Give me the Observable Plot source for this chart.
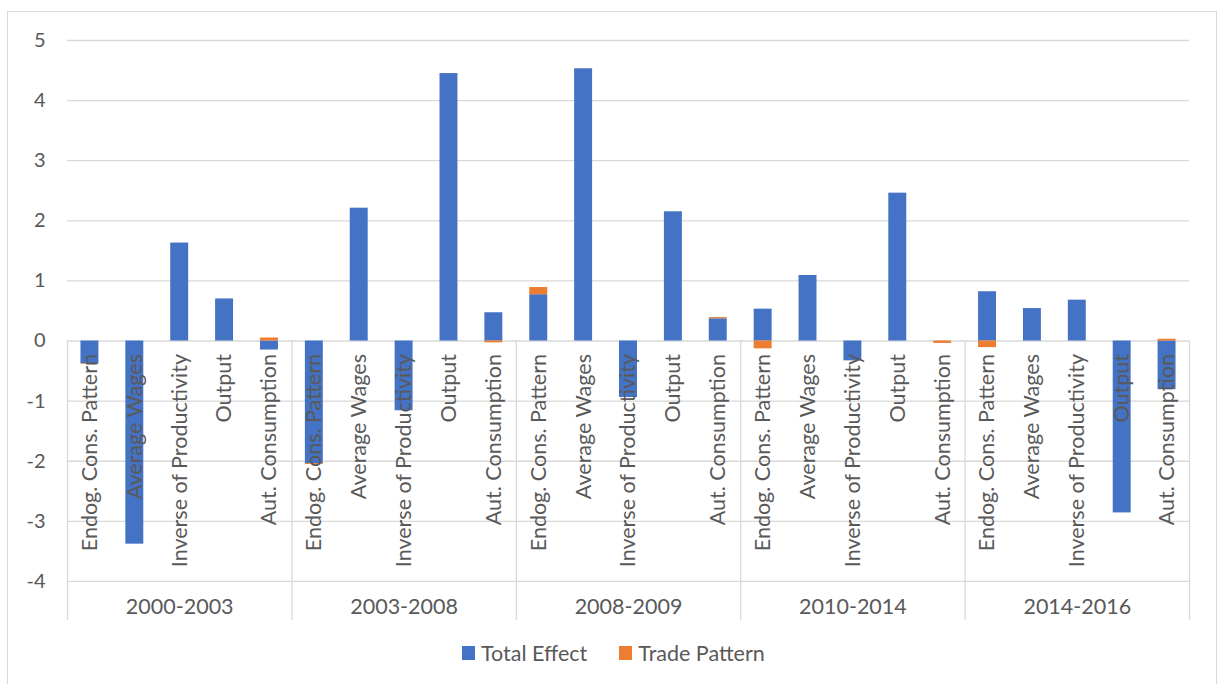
<!DOCTYPE html>
<html><head><meta charset="utf-8">
<script src="https://cdn.jsdelivr.net/npm/d3@7"></script>
<script src="https://cdn.jsdelivr.net/npm/@observablehq/plot@0.6"></script>
<style>
body{margin:0;background:#fff;font-family:Lato,"Open Sans",sans-serif;}
#frame{position:absolute;left:7px;top:11px;width:1210px;height:700px;border:1px solid #d9d9d9;box-sizing:border-box;}
#chart{position:absolute;left:0;top:0;}
#chart svg g[aria-label*="y-axis"] text{font-size:20px !important;}
#legend{position:absolute;top:640px;left:462px;display:flex;align-items:center;font-size:21.5px;color:#595959;white-space:nowrap;}
#legend .sw{display:inline-block;width:13px;height:14px;margin-right:6px;}
#legend .item{display:flex;align-items:center;margin-right:32px;}
</style>
</head><body>
<div id="frame"></div>
<div id="chart"></div>
<div id="legend"></div>
<script>
const periods = ["2000-2003", "2003-2008", "2008-2009", "2010-2014", "2014-2016"];
const factors = ["Endog. Cons. Pattern", "Average Wages", "Inverse of Productivity", "Output", "Aut. Consumption"];
const seriesNames = ["Total Effect", "Trade Pattern"];
const seriesColors = ["#4472C4", "#ED7D31"];
// values in order period by period, factor by factor
const totalEffect = [
  -0.38, -3.38, 1.63, 0.70, -0.15,
  -2.04, 2.21, -1.16, 4.45, 0.47,
  0.77, 4.53, -0.94, 2.15, 0.37,
  0.53, 1.09, -0.33, 2.46, 0.00,
  0.82, 0.54, 0.68, -2.86, -0.81
];
const tradePattern = [
  -0.01, 0, 0, 0, 0.05,
  -0.015, 0, 0, 0, -0.03,
  0.12, 0, 0, 0, 0.02,
  -0.13, 0, 0, 0, -0.04,
  -0.11, 0, 0, 0, 0.03
];
const yTicks = [-4, -3, -2, -1, 0, 1, 2, 3, 4, 5];

const W = 1218, H = 630, ML = 67, MR = 29, MT = 40, MB = 10;
const FS = 21.5;
const keys = periods.flatMap(p => factors.map(f => p + "|" + f));
const step = (W - ML - MR) / keys.length;

const rows = [];
keys.forEach((k, i) => {
  rows.push({key: k, series: seriesNames[0], value: totalEffect[i]});
  rows.push({key: k, series: seriesNames[1], value: tradePattern[i]});
});
const labels = keys.map(k => ({key: k, label: k.split("|")[1]}));
const grey = "#595959", line = "#d9d9d9";

const chart = Plot.plot({
  width: W, height: H,
  marginLeft: ML, marginRight: MR, marginTop: MT, marginBottom: MB,
  style: {fontFamily: "Lato, 'Open Sans', sans-serif", fontSize: "20px", color: grey, background: "transparent"},
  x: {type: "band", domain: keys, paddingInner: 0.6, paddingOuter: 0.3, round: false, axis: null},
  y: {domain: [-4.65, 5], ticks: yTicks, tickSize: 0, tickPadding: 22, label: null, tickFormat: d => String(d)},
  color: {domain: seriesNames, range: seriesColors},
  marks: [
    Plot.ruleY(yTicks, {stroke: line, strokeWidth: 1.3}),
    Plot.ruleX(periods, {x: p => p + "|" + factors[0], y1: 0, y2: -4.65, dx: -step / 2, stroke: line, strokeWidth: 1.3}),
    Plot.ruleX(periods.slice(-1), {x: p => p + "|" + factors[factors.length - 1], y1: 0, y2: -4.65, dx: step / 2, stroke: line, strokeWidth: 1.3}),
    Plot.barY(rows, {x: "key", y: "value", fill: "series"}),
    Plot.text(labels, {x: "key", y: 0, text: "label", rotate: -90, textAnchor: "end", dy: 13, fontSize: FS, fill: grey}),
    Plot.text(periods, {x: p => p + "|" + factors[2], y: -4.43, text: d => d, fontSize: FS, fill: grey})
  ]
});
document.getElementById("chart").appendChild(chart);

const legend = document.getElementById("legend");
seriesNames.forEach((s, i) => {
  const item = document.createElement("span");
  item.className = "item";
  item.innerHTML = `<span class="sw" style="background:${seriesColors[i]}"></span>${s}`;
  legend.appendChild(item);
});
</script>
</body></html>
